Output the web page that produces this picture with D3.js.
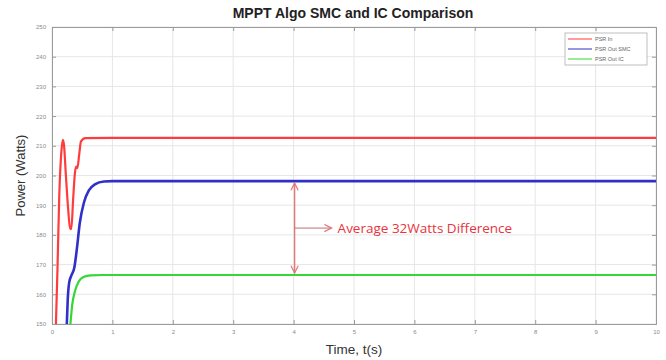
<!DOCTYPE html>
<html>
<head>
<meta charset="utf-8">
<script src="https://cdn.jsdelivr.net/npm/d3@7"></script>
<style>
body { margin: 0; background: #fff; }
</style>
</head>
<body>
<div id="chart"></div>
<script>
// values: [time s, power W]
let psrIn = [[0.065,150],[0.09,168],[0.12,193],[0.155,208],[0.18,212],[0.20,210],[0.23,200],[0.27,188],[0.30,182],[0.32,182],[0.35,192],[0.38,201],[0.40,203],[0.42,202.5],[0.45,207],[0.48,211.5],[0.55,212.6],[1,212.7],[10,212.7]];
let psrOutSmc = [[0.245,150],[0.26,158],[0.285,164],[0.32,166.3],[0.37,169],[0.41,175],[0.46,184],[0.53,191],[0.61,195],[0.71,197],[0.86,198],[1.0,198.1],[10,198.1]];
let psrOutIc = [[0.305,150],[0.335,156.5],[0.38,161],[0.44,164.2],[0.52,165.8],[0.64,166.4],[0.85,166.5],[10,166.5]];
let seriesNames = ["PSR In", "PSR Out SMC", "PSR Out IC"];
let seriesColors = ["#ff3b3b", "#3030c8", "#36d636"];
let xTicks = [0,1,2,3,4,5,6,7,8,9,10];
let yTicks = [150,160,170,180,190,200,210,220,230,240,250];
let arrowAt = 4; // annotation time

let width = 666, height = 360;
let m = {left: 52, right: 10, top: 27, bottom: 36};

let svg = d3.select("#chart").append("svg")
    .attr("width", width)
    .attr("height", height);

let x = d3.scaleLinear().domain([0, 10]).range([m.left, width - m.right]);
let y = d3.scaleLinear().domain([150, 250]).range([height - m.bottom, m.top]);

svg.append("defs").append("clipPath").attr("id", "clip")
    .append("rect")
    .attr("x", m.left).attr("y", m.top)
    .attr("width", width - m.left - m.right)
    .attr("height", height - m.top - m.bottom);

// grid
svg.append("g")
    .selectAll("line.gx").data(xTicks).join("line")
    .attr("x1", d => x(d)).attr("x2", d => x(d))
    .attr("y1", m.top).attr("y2", height - m.bottom)
    .style("stroke", "#e6e6e6");
svg.append("g")
    .selectAll("line.gy").data(yTicks).join("line")
    .attr("y1", d => y(d)).attr("y2", d => y(d))
    .attr("x1", m.left).attr("x2", width - m.right)
    .style("stroke", "#e6e6e6");

// axes
let xAxis = svg.append("g")
    .attr("transform", "translate(0," + (height - m.bottom) + ")")
    .call(d3.axisBottom(x).tickValues(xTicks).tickSize(-4).tickPadding(6));
let yAxis = svg.append("g")
    .attr("transform", "translate(" + m.left + ",0)")
    .call(d3.axisLeft(y).tickValues(yTicks).tickSize(-4).tickPadding(6));
let yAxisR = svg.append("g")
    .attr("transform", "translate(" + (width - m.right) + ",0)")
    .call(d3.axisRight(y).tickValues(yTicks).tickSize(-4).tickFormat(""));
let xAxisT = svg.append("g")
    .attr("transform", "translate(0," + m.top + ")")
    .call(d3.axisTop(x).tickValues(xTicks).tickSize(-4).tickFormat(""));

[xAxis, yAxis, yAxisR, xAxisT].forEach(g => {
    g.selectAll("path, line").style("stroke", "#9a9a9a");
    g.selectAll("text").style("fill", "#8a8a8a")
        .style("font-family", "Liberation Sans, Arial, sans-serif")
        .style("font-size", "6px");
});

// lines
let line = d3.line()
    .x(d => x(d[0]))
    .y(d => y(d[1]))
    .curve(d3.curveMonotoneX);

let plot = svg.append("g").attr("clip-path", "url(#clip)");
[psrIn, psrOutSmc, psrOutIc].forEach((s, i) => {
    plot.append("path")
        .attr("d", line(s))
        .attr("fill", "none")
        .style("stroke", seriesColors[i])
        .style("stroke-width", i == 1 ? 2.6 : 2.2);
});

// annotation arrows
let blueEnd = psrOutSmc[psrOutSmc.length - 1][1];
let greenEnd = psrOutIc[psrOutIc.length - 1][1];
let defs = svg.select("defs");
defs.append("marker")
    .attr("id", "head")
    .attr("viewBox", "0 0 10 10")
    .attr("refX", 9).attr("refY", 5)
    .attr("markerWidth", 9).attr("markerHeight", 9)
    .attr("markerUnits", "userSpaceOnUse")
    .attr("orient", "auto-start-reverse")
    .append("path")
    .attr("d", "M1,1 L9,5 L1,9")
    .attr("fill", "none")
    .style("stroke", "#e07a7a")
    .style("stroke-width", 1.4);

let ax = x(arrowAt) + 1;
svg.append("line")
    .attr("x1", ax).attr("x2", ax)
    .attr("y1", y(blueEnd) + 2).attr("y2", y(greenEnd) - 2)
    .style("stroke", "#e07a7a")
    .style("stroke-width", 1.4)
    .attr("marker-start", "url(#head)")
    .attr("marker-end", "url(#head)");

let midY = (y(blueEnd) + y(greenEnd)) / 2;
svg.append("line")
    .attr("x1", ax).attr("x2", ax + 37)
    .attr("y1", midY).attr("y2", midY)
    .style("stroke", "#c07070")
    .style("stroke-width", 1)
    .attr("marker-end", "url(#head)");

svg.append("text")
    .attr("x", ax + 43).attr("y", midY + 4.5)
    .text("Average 32Watts Difference")
    .style("fill", "#e8343c")
    .style("font-family", "Open Sans, Liberation Sans, sans-serif")
    .style("font-size", "13.5px");

// legend
let lg = svg.append("g").attr("transform", "translate(565,33)");
lg.append("rect")
    .attr("width", 82).attr("height", 32)
    .attr("fill", "#fff")
    .style("stroke", "#b0b0b0")
    .style("stroke-width", 0.8);
seriesNames.forEach((n, i) => {
    lg.append("line")
        .attr("x1", 3).attr("x2", 27)
        .attr("y1", 6 + i * 10).attr("y2", 6 + i * 10)
        .style("stroke", seriesColors[i])
        .style("stroke-width", 1);
    lg.append("text")
        .attr("x", 30).attr("y", 8 + i * 10)
        .text(n)
        .style("fill", "#666")
        .style("font-family", "Liberation Sans, Arial, sans-serif")
        .style("font-size", "5.5px");
});

// titles
svg.append("text")
    .attr("x", 353).attr("y", 18)
    .attr("text-anchor", "middle")
    .text("MPPT Algo SMC and IC Comparison")
    .style("font-family", "Liberation Sans, Arial, sans-serif")
    .style("font-weight", "bold")
    .style("font-size", "14px")
    .style("fill", "#222");

svg.append("text")
    .attr("x", 354).attr("y", 354)
    .attr("text-anchor", "middle")
    .text("Time, t(s)")
    .style("font-family", "Liberation Sans, Arial, sans-serif")
    .style("font-size", "13.5px")
    .style("fill", "#333");

svg.append("text")
    .attr("transform", "translate(25," + ((m.top + height - m.bottom) / 2) + ") rotate(-90)")
    .attr("text-anchor", "middle")
    .text("Power (Watts)")
    .style("font-family", "Liberation Sans, Arial, sans-serif")
    .style("font-size", "13px")
    .style("fill", "#333");
</script>
</body>
</html>
